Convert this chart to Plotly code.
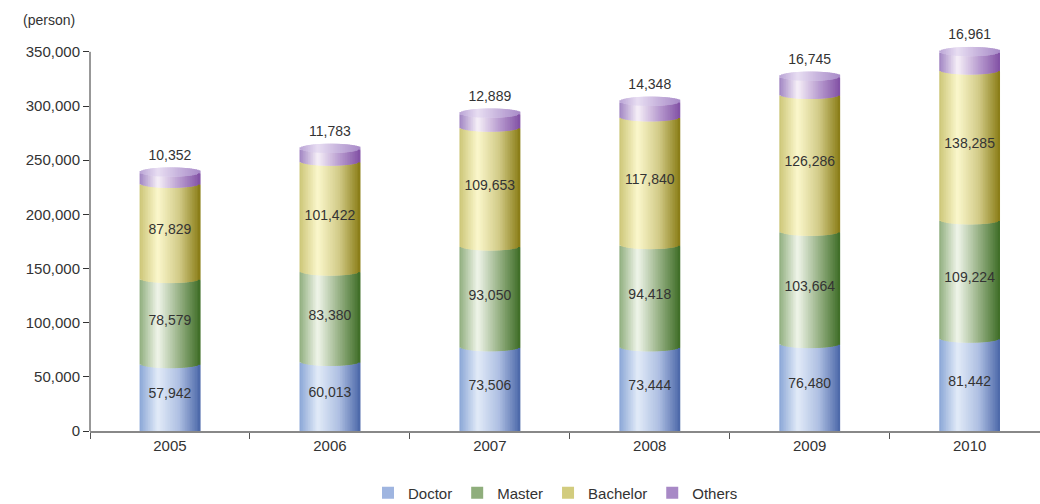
import numpy as np
import plotly.graph_objects as go

years = ["2005", "2006", "2007", "2008", "2009", "2010"]
doctor = [57942, 60013, 73506, 73444, 76480, 81442]
master = [78579, 83380, 93050, 94418, 103664, 109224]
bachelor = [87829, 101422, 109653, 117840, 126286, 138285]
others = [10352, 11783, 12889, 14348, 16745, 16961]
series_names = ["Doctor", "Master", "Bachelor", "Others"]
y_ticks = [0, 50000, 100000, 150000, 200000, 250000, 300000, 350000]

# colour profiles across a cylinder: left, highlight, mid, dark right
profiles = {
    "Doctor":   ["#8aa6d6", "#e2ebf8", "#aebfe2", "#4a67a8"],
    "Master":   ["#90ae7e", "#f0f5ea", "#98b286", "#3d6c25"],
    "Bachelor": ["#ccc677", "#fbf7cc", "#d2cb88", "#887b14"],
    "Others":   ["#a084c2", "#f6f0f8", "#b99dd0", "#8150a4"],
}
top_profile = ["#b9a3d5", "#e8def2", "#c6b2dc", "#a88ac8"]
legend_colors = {"Doctor": "#9fb5e0", "Master": "#8fae7c", "Bachelor": "#d2cc7e", "Others": "#a889c6"}
stops = [0.0, 0.3, 0.65, 1.0]


def hex2rgb(h):
    h = h.lstrip("#")
    return np.array([int(h[i:i + 2], 16) for i in (0, 2, 4)], dtype=float)


def grad(cols, t):
    rgbs = [hex2rgb(c) for c in cols]
    for i in range(len(stops) - 1):
        if stops[i] <= t <= stops[i + 1]:
            f = (t - stops[i]) / (stops[i + 1] - stops[i])
            c = rgbs[i] * (1 - f) + rgbs[i + 1] * f
            return "rgb(%d,%d,%d)" % tuple(np.round(c))
    c = rgbs[-1]
    return "rgb(%d,%d,%d)" % tuple(np.round(c))


data = [np.array(doctor, float), np.array(master, float),
        np.array(bachelor, float), np.array(others, float)]
cum = np.vstack([np.zeros(len(years))] + [np.cumsum(data, axis=0)[i] for i in range(4)])
total = cum[-1]

BAR_W = 0.38
N = 36
E = 4300.0  # ellipse half height in data units
sw = BAR_W / N

fig = go.Figure()

for k in range(N):
    t = (k + 0.5) / N
    u = 2 * t - 1
    dy = E * np.sqrt(max(0.0, 1 - u * u))
    off = -BAR_W / 2 + k * sw
    w = sw * 2.0 if k < N - 1 else sw
    for j, name in enumerate(series_names):
        base = cum[j] + E - dy if j > 0 else cum[j]
        top = cum[j + 1] + E - dy
        fig.add_trace(go.Bar(
            x=years, y=top - base, base=base, width=w, offset=off,
            marker=dict(color=grad(profiles[name], t), line=dict(width=0)),
            showlegend=False, hoverinfo="skip"))
    # top face of the cylinder
    fig.add_trace(go.Bar(
        x=years, y=np.full(len(years), 2 * dy), base=total + E - dy, width=w, offset=off,
        marker=dict(color=grad(top_profile, t), line=dict(width=0)),
        showlegend=False, hoverinfo="skip"))

# legend entries
for name in series_names:
    fig.add_trace(go.Bar(x=[None], y=[None], name=name,
                         marker=dict(color=legend_colors[name], line=dict(width=0))))

# value labels
label_font = dict(family="Liberation Sans", size=14, color="#333333")
for j in range(3):
    centers = (cum[j] + cum[j + 1]) / 2 + E
    fig.add_trace(go.Scatter(x=years, y=centers, mode="text",
                             text=[f"{v:,}" for v in [doctor, master, bachelor][j]],
                             textfont=label_font, showlegend=False, hoverinfo="skip",
                             cliponaxis=False))
fig.add_trace(go.Scatter(x=years, y=total + 2 * E + 10500, mode="text",
                         text=[f"{v:,}" for v in others], textfont=label_font,
                         showlegend=False, hoverinfo="skip", cliponaxis=False))

fig.update_layout(
    width=1040, height=504,
    margin=dict(l=90, r=0, t=28, b=73, autoexpand=False),
    barmode="overlay",
    plot_bgcolor="white", paper_bgcolor="white",
    font=dict(family="Liberation Sans", size=15, color="#333333"),
    legend=dict(orientation="h", x=0.49, xanchor="center",
                yref="container", y=0.022, yanchor="middle",
                font=dict(size=15, color="#333333"), traceorder="normal"),
    annotations=[dict(text="(person)", xref="paper", yref="paper", x=-0.043, y=1.02,
                      xanchor="center", yanchor="middle", showarrow=False,
                      font=dict(size=14, color="#333333"))],
    shapes=[dict(type="line", xref="paper", yref="y", x0=0, x1=0, y0=0, y1=max(y_ticks),
                 line=dict(color="#333333", width=1))],
)
fig.update_xaxes(type="category", range=[-0.5, 5.44], tickson="boundaries",
                 ticks="outside", ticklen=6, tickcolor="#555555",
                 showline=True, linecolor="#888888", linewidth=2, showgrid=False,
                 tickfont=dict(size=15, color="#333333"))
fig.update_yaxes(range=[0, 372000], tickvals=y_ticks,
                 tickformat=",", ticks="outside", ticklen=6, tickcolor="#333333",
                 showline=False, showgrid=False, zeroline=False,
                 tickfont=dict(size=15, color="#333333"))

fig.write_html("out.html")
